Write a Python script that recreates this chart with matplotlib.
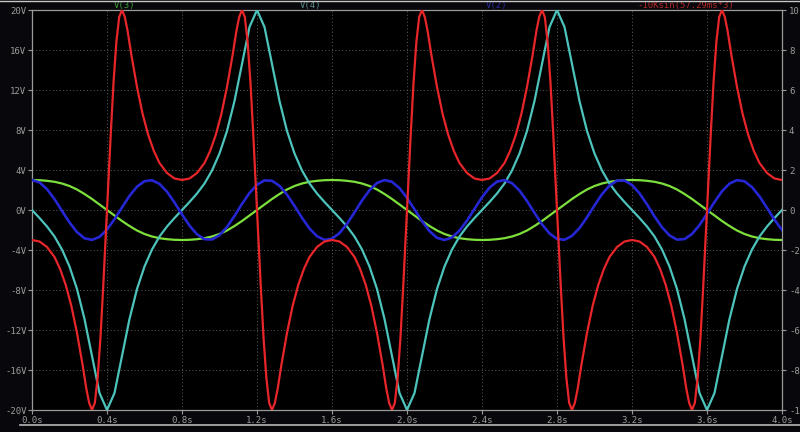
import numpy as np
import matplotlib.pyplot as plt

# ---- data
# common time grid for V(3), V(4), V(2)  (seconds)
t = np.linspace(0, 4.0, 101)

# V(3) green
v3 = [3.0, 2.98, 2.92, 2.82, 2.65, 2.4, 2.05, 1.6, 1.1, 0.55, 0.0,
      -0.55, -1.1, -1.6, -2.05, -2.4, -2.65, -2.82, -2.92, -2.98, -3.0,
      -2.98, -2.92, -2.82, -2.65, -2.4, -2.05, -1.6, -1.1, -0.55, 0.0,
      0.55, 1.1, 1.6, 2.05, 2.4, 2.65, 2.82, 2.92, 2.98, 3.0,
      2.98, 2.92, 2.82, 2.65, 2.4, 2.05, 1.6, 1.1, 0.55, 0.0,
      -0.55, -1.1, -1.6, -2.05, -2.4, -2.65, -2.82, -2.92, -2.98, -3.0,
      -2.98, -2.92, -2.82, -2.65, -2.4, -2.05, -1.6, -1.1, -0.55, 0.0,
      0.55, 1.1, 1.6, 2.05, 2.4, 2.65, 2.82, 2.92, 2.98, 3.0,
      2.98, 2.92, 2.82, 2.65, 2.4, 2.05, 1.6, 1.1, 0.55, 0.0,
      -0.55, -1.1, -1.6, -2.05, -2.4, -2.65, -2.82, -2.92, -2.98, -3.0]

# V(4) cyan
v4 = [0.0, -0.8, -1.65, -2.65, -3.95, -5.65, -7.9, -10.9, -14.6, -18.3, -20.0,
      -18.3, -14.6, -10.9, -7.9, -5.65, -3.95, -2.65, -1.65, -0.8, 0.0,
      0.8, 1.65, 2.65, 3.95, 5.65, 7.9, 10.9, 14.6, 18.3, 20.0,
      18.3, 14.6, 10.9, 7.9, 5.65, 3.95, 2.65, 1.65, 0.8, 0.0,
      -0.8, -1.65, -2.65, -3.95, -5.65, -7.9, -10.9, -14.6, -18.3, -20.0,
      -18.3, -14.6, -10.9, -7.9, -5.65, -3.95, -2.65, -1.65, -0.8, 0.0,
      0.8, 1.65, 2.65, 3.95, 5.65, 7.9, 10.9, 14.6, 18.3, 20.0,
      18.3, 14.6, 10.9, 7.9, 5.65, 3.95, 2.65, 1.65, 0.8, 0.0,
      -0.8, -1.65, -2.65, -3.95, -5.65, -7.9, -10.9, -14.6, -18.3, -20.0,
      -18.3, -14.6, -10.9, -7.9, -5.65, -3.95, -2.65, -1.65, -0.8, 0.0]

# V(2) blue
v2 = [3.00, 2.76, 2.09, 1.09, -0.09, -1.25, -2.21, -2.83, -2.99, -2.69,
      -1.96, -0.92, 0.26, 1.41, 2.33, 2.88, 2.98, 2.61, 1.83, 0.75,
      -0.44, -1.56, -2.43, -2.92, -2.95, -2.52, -1.70, -0.59, 0.61, 1.70,
      2.53, 2.96, 2.92, 2.42, 1.54, 0.41, -0.78, -1.85, -2.62, -2.99,
      -2.87, -2.31, -1.38, -0.24, 0.95, 1.98, 2.70, 3.00, 2.82, 2.19,
      1.22, 0.06, -1.11, -2.11, -2.78, -3.00, -2.75, -2.06, -1.06, 0.11,
      1.27, 2.23, 2.84, 2.99, 2.68, 1.94, 0.90, -0.29, -1.43, -2.34,
      -2.89, -2.98, -2.59, -1.81, -0.73, 0.46, 1.58, 2.45, 2.93, 2.95,
      2.50, 1.67, 0.56, -0.64, -1.73, -2.54, -2.96, -2.91, -2.40, -1.51,
      -0.38, 0.80, 1.87, 2.64, 2.99, 2.87, 2.29, 1.36, 0.21, -0.97, -2.00]

# red trace (own time points, denser near the steep parts)
red_t = [0.0, 0.04, 0.08, 0.12, 0.15, 0.18, 0.21, 0.24, 0.27, 0.29, 0.305, 0.32, 0.335, 0.35, 0.365, 0.38, 0.39,
         0.40, 0.41, 0.42, 0.435, 0.45, 0.465, 0.48, 0.495, 0.51, 0.53, 0.56, 0.59, 0.62, 0.65, 0.68, 0.72, 0.76,
         0.80, 0.84, 0.88, 0.92, 0.95, 0.98, 1.01, 1.04, 1.07, 1.09, 1.105, 1.12, 1.135, 1.15, 1.165, 1.18, 1.19,
         1.20, 1.21, 1.22, 1.235, 1.25, 1.265, 1.28, 1.295, 1.31, 1.33, 1.36, 1.39, 1.42, 1.45, 1.48, 1.52, 1.56,
         1.60, 1.64, 1.68, 1.72, 1.75, 1.78, 1.81, 1.84, 1.87, 1.89, 1.905, 1.92, 1.935, 1.95, 1.965, 1.98, 1.99,
         2.00, 2.01, 2.02, 2.035, 2.05, 2.065, 2.08, 2.095, 2.11, 2.13, 2.16, 2.19, 2.22, 2.25, 2.28, 2.32, 2.36,
         2.40, 2.44, 2.48, 2.52, 2.55, 2.58, 2.61, 2.64, 2.67, 2.69, 2.705, 2.72, 2.735, 2.75, 2.765, 2.78, 2.79,
         2.80, 2.81, 2.82, 2.835, 2.85, 2.865, 2.88, 2.895, 2.91, 2.93, 2.96, 2.99, 3.02, 3.05, 3.08, 3.12, 3.16,
         3.20, 3.24, 3.28, 3.32, 3.35, 3.38, 3.41, 3.44, 3.47, 3.49, 3.505, 3.52, 3.535, 3.55, 3.565, 3.58, 3.59,
         3.60, 3.61, 3.62, 3.635, 3.65, 3.665, 3.68, 3.695, 3.71, 3.73, 3.76, 3.79, 3.82, 3.85, 3.88, 3.92, 3.96,
         4.00]
red_v = [-3.0, -3.15, -3.7, -4.7, -5.9, -7.5, -9.6, -12.3, -15.5, -17.9, -19.3, -20.0, -19.3, -16.8, -12.8, -7.6, -3.9,
         0.0, 3.9, 7.6, 12.8, 16.8, 19.3, 20.0, 19.3, 17.9, 15.5, 12.3, 9.6, 7.5, 5.9, 4.7, 3.7, 3.15,
         3.0, 3.15, 3.7, 4.7, 5.9, 7.5, 9.6, 12.3, 15.5, 17.9, 19.3, 20.0, 19.3, 16.8, 12.8, 7.6, 3.9,
         0.0, -3.9, -7.6, -12.8, -16.8, -19.3, -20.0, -19.3, -17.9, -15.5, -12.3, -9.6, -7.5, -5.9, -4.7, -3.7, -3.15,
         -3.0, -3.15, -3.7, -4.7, -5.9, -7.5, -9.6, -12.3, -15.5, -17.9, -19.3, -20.0, -19.3, -16.8, -12.8, -7.6, -3.9,
         0.0, 3.9, 7.6, 12.8, 16.8, 19.3, 20.0, 19.3, 17.9, 15.5, 12.3, 9.6, 7.5, 5.9, 4.7, 3.7, 3.15,
         3.0, 3.15, 3.7, 4.7, 5.9, 7.5, 9.6, 12.3, 15.5, 17.9, 19.3, 20.0, 19.3, 16.8, 12.8, 7.6, 3.9,
         0.0, -3.9, -7.6, -12.8, -16.8, -19.3, -20.0, -19.3, -17.9, -15.5, -12.3, -9.6, -7.5, -5.9, -4.7, -3.7, -3.15,
         -3.0, -3.15, -3.7, -4.7, -5.9, -7.5, -9.6, -12.3, -15.5, -17.9, -19.3, -20.0, -19.3, -16.8, -12.8, -7.6, -3.9,
         0.0, 3.9, 7.6, 12.8, 16.8, 19.3, 20.0, 19.3, 17.9, 15.5, 12.3, 9.6, 7.5, 5.9, 4.7, 3.7, 3.15,
         3.0]

# axis ticks / labels
x_ticks = [0.0, 0.4, 0.8, 1.2, 1.6, 2.0, 2.4, 2.8, 3.2, 3.6, 4.0]
x_labels = ["0.0s", "0.4s", "0.8s", "1.2s", "1.6s", "2.0s", "2.4s", "2.8s", "3.2s", "3.6s", "4.0s"]
y_ticks = [20, 16, 12, 8, 4, 0, -4, -8, -12, -16, -20]
y_labels = ["20V", "16V", "12V", "8V", "4V", "0V", "-4V", "-8V", "-12V", "-16V", "-20V"]
y2_ticks = [10, 8, 6, 4, 2, 0, -2, -4, -6, -8, -10]
y2_labels = ["10", "8", "6", "4", "2", "0", "-2", "-4", "-6", "-8", "-10"]

trace_names = ["V(3)", "V(4)", "V(2)", "-10Ksin(57.29ms*3)"]
trace_colors = ["#7ee03c", "#4cc4bc", "#2626d4", "#e8262a"]
label_colors = ["#3f9a3a", "#5a8a86", "#2a2aa0", "#b02828"]

# ---- figure
plt.rcParams["font.family"] = "DejaVu Sans Mono"
fig = plt.figure(figsize=(8, 4.32), dpi=100, facecolor="#08080c")
ax = fig.add_axes([0.04, 22 / 432, 0.9375, 400 / 432])
ax.set_facecolor("black")

grid_col = "#5e5e5e"
frame_col = "#9a9a9a"
txt_col = "#9c9c9c"

for xv in x_ticks[1:-1]:
    ax.axvline(xv, color=grid_col, lw=0.7, ls=(0, (1, 2.5)), zorder=1)
for yv in y_ticks[1:-1]:
    ax.axhline(yv, color=grid_col, lw=0.7, ls=(0, (1, 2.5)), zorder=1)

ax.plot(t, v3, color=trace_colors[0], lw=1.6, zorder=3)
ax.plot(t, v4, color=trace_colors[1], lw=1.6, zorder=4)
ax.plot(t, v2, color=trace_colors[2], lw=1.9, zorder=5)
ax.plot(red_t, red_v, color=trace_colors[3], lw=1.6, zorder=6)

ax.set_xlim(0, 4.0)
ax.set_ylim(-20, 20)
ax.set_xticks(x_ticks)
ax.set_xticklabels(x_labels)
ax.set_yticks(y_ticks)
ax.set_yticklabels(y_labels)
ax.tick_params(colors=frame_col, labelcolor=txt_col, labelsize=6.5, length=3, width=0.8, pad=1)
for s in ax.spines.values():
    s.set_color(frame_col)
    s.set_linewidth(0.9)

ax2 = ax.twinx()
ax2.set_ylim(-10, 10)
ax2.set_yticks(y2_ticks)
ax2.set_yticklabels(y2_labels)
ax2.tick_params(colors=frame_col, labelcolor=txt_col, labelsize=6.5, length=3, width=0.8, pad=2)
for s in ax2.spines.values():
    s.set_visible(False)

# trace names above the plot
name_x = [0.123, 0.372, 0.62, 0.872]
for nx, name, col in zip(name_x, trace_names, label_colors):
    ax.text(nx, 1.012, name, transform=ax.transAxes, color=col, fontsize=6.5,
            ha="center", va="center")

# window border lines of the screenshot
fig.add_artist(plt.Line2D([0, 1], [0.998, 0.998], color="#c8c8c8", lw=1.0, transform=fig.transFigure))
fig.add_artist(plt.Line2D([0.025, 1], [7 / 432, 7 / 432], color="#b8b8b8", lw=1.2, transform=fig.transFigure))

fig.savefig("out.png", dpi=100, facecolor=fig.get_facecolor())
